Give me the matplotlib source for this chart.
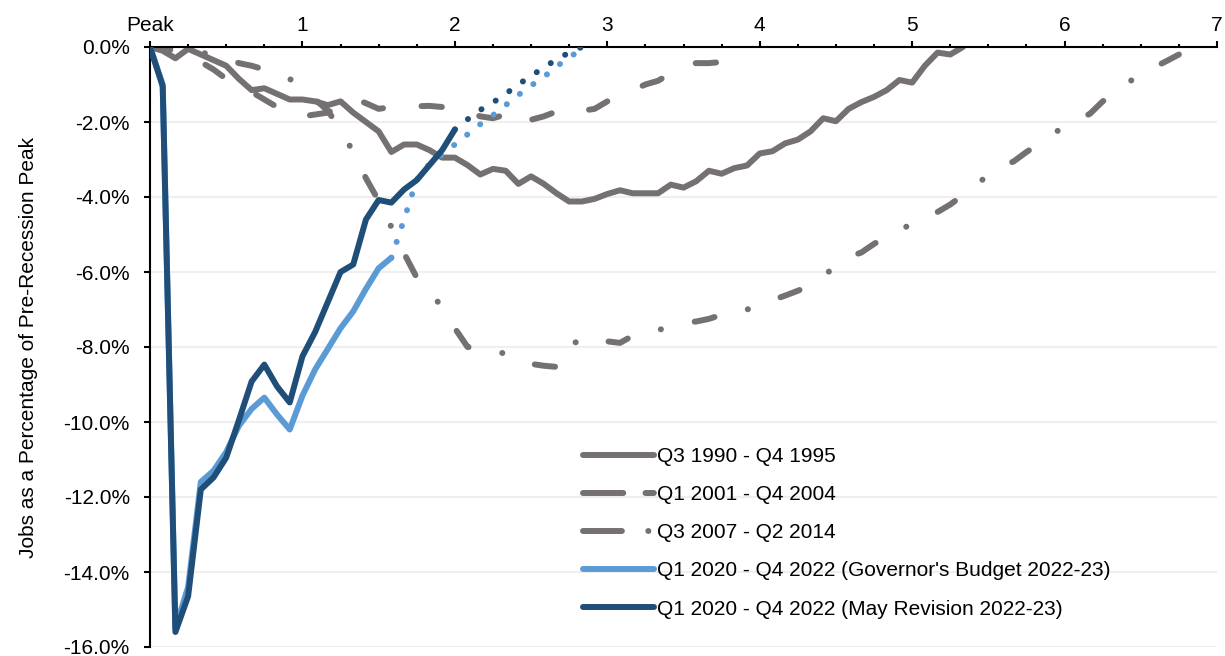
import matplotlib.pyplot as plt
import numpy as np
from matplotlib.lines import Line2D

plt.rcParams["font.family"] = ["Liberation Sans", "DejaVu Sans"]
plt.rcParams["lines.scale_dashes"] = False

# jobs as % of pre-recession peak, one value per month after the peak
jobs_1990 = [0.0, -0.1, -0.3, -0.05, -0.2, -0.35, -0.5, -0.85, -1.15, -1.1,
             -1.25, -1.4, -1.4, -1.45, -1.55, -1.45, -1.75, -2.0, -2.25, -2.8,
             -2.6, -2.6, -2.75, -2.95, -2.95, -3.15, -3.4, -3.25, -3.3, -3.65,
             -3.45, -3.65, -3.9, -4.12, -4.12, -4.05, -3.92, -3.82, -3.9, -3.9,
             -3.9, -3.67, -3.75, -3.58, -3.3, -3.38, -3.23, -3.16, -2.84, -2.78,
             -2.57, -2.47, -2.25, -1.9, -1.98, -1.65, -1.47, -1.33, -1.15, -0.88,
             -0.95, -0.5, -0.15, -0.2, 0.0]
jobs_2001 = [0.0, -0.05, -0.1, -0.2, -0.4, -0.6, -0.85, -1.0, -1.2, -1.4,
             -1.6, -1.75, -1.85, -1.8, -1.75, -1.55, -1.36, -1.5, -1.65, -1.6,
             -1.6, -1.58, -1.57, -1.6, -1.65, -1.72, -1.85, -1.9, -1.8, -1.65,
             -1.94, -1.85, -1.72, -1.62, -1.7, -1.65, -1.45, -1.28, -1.15, -1.0,
             -0.9, -0.7, -0.45, -0.43, -0.43, -0.4]
jobs_2007 = [0.0, -0.02, -0.05, -0.1, -0.15, -0.2, -0.3, -0.43, -0.5, -0.6,
             -0.75, -0.85, -1.1, -1.4, -1.7, -2.2, -2.8, -3.5, -4.1, -4.8,
             -5.5, -6.15, -6.5, -6.95, -7.5, -8.0, -8.05, -8.05, -8.2, -8.38,
             -8.45, -8.5, -8.53, -7.9, -7.85, -7.72, -7.85, -7.89, -7.7, -7.58,
             -7.55, -7.45, -7.35, -7.32, -7.25, -7.14, -7.14, -7.0, -6.9, -6.75,
             -6.63, -6.5, -6.35, -6.1, -5.85, -5.6, -5.48, -5.25, -5.05, -4.9,
             -4.7, -4.55, -4.4, -4.2, -3.95, -3.7, -3.4, -3.2, -3.05, -2.8,
             -2.58, -2.35, -2.1, -1.95, -1.78, -1.45, -1.25, -0.95, -0.72, -0.55,
             -0.38, -0.2]

# 2020 recession: actuals, then forecast (months 19-34 / 24-34)
gov_actual = [0.0, -1.0, -15.5, -14.4, -11.6, -11.3, -10.8, -10.1, -9.65, -9.35,
              -9.8, -10.2, -9.3, -8.6, -8.05, -7.5, -7.05, -6.45, -5.9, -5.62]
gov_forecast = [-5.62, -4.6, -3.54, -3.12, -2.87, -2.6, -2.33, -2.06, -1.82,
                -1.55, -1.28, -1.03, -0.8, -0.52, -0.28, -0.05]
may_actual = [0.0, -1.05, -15.6, -14.65, -11.8, -11.48, -10.95, -9.95, -8.92,
              -8.47, -9.05, -9.48, -8.25, -7.6, -6.8, -6.0, -5.8, -4.6, -4.08,
              -4.15, -3.8, -3.55, -3.15, -2.75, -2.2]
may_forecast = [-2.2, -1.93, -1.68, -1.48, -1.25, -1.0, -0.77, -0.55, -0.33,
                -0.15, 0.0]

series_labels = ["Q3 1990 - Q4 1995", "Q1 2001 - Q4 2004", "Q3 2007 - Q2 2014",
                 "Q1 2020 - Q4 2022 (Governor's Budget 2022-23)",
                 "Q1 2020 - Q4 2022 (May Revision 2022-23)"]
x_ticklabels = ["Peak", "1", "2", "3", "4", "5", "6", "7"]
y_ticks = [0, -2, -4, -6, -8, -10, -12, -14, -16]

gray = "#767171"
light = "#5B9BD5"
dark = "#1F4E79"
lw = 4.3


def months(vals, start=0):
    return (np.arange(len(vals)) + start) / 12.0


fig = plt.figure(figsize=(12.25, 6.56), dpi=100)
ax = fig.add_axes([150 / 1225, 9 / 656, 1067 / 1225, 600 / 656])

ax.plot(months(jobs_1990), jobs_1990, color=gray, lw=lw,
        solid_joinstyle="round", solid_capstyle="round")
ax.plot(months(jobs_2001), jobs_2001, color=gray, lw=lw,
        linestyle=(0, (14.7, 27.8)), dash_capstyle="round",
        dash_joinstyle="round")
ax.plot(months(jobs_2007), jobs_2007, color=gray, lw=lw,
        linestyle=(0, (14.7, 25, 0.1, 25)), dash_capstyle="round",
        dash_joinstyle="round")
ax.plot(months(gov_actual), gov_actual, color=light, lw=lw,
        solid_joinstyle="round", solid_capstyle="round", zorder=3)
ax.plot(months(gov_forecast, 19), gov_forecast, color=light, lw=lw,
        linestyle=(0, (0.1, 11.9)), dash_capstyle="round", zorder=3)
ax.plot(months(may_actual), may_actual, color=dark, lw=lw,
        solid_joinstyle="round", solid_capstyle="round", zorder=4)
ax.plot(months(may_forecast, 24), may_forecast, color=dark, lw=lw,
        linestyle=(0, (0.1, 11.9)), dash_capstyle="round", zorder=4)

ax.set_xlim(0, 7)
ax.set_ylim(-16, 0)
ax.xaxis.tick_top()
ax.set_xticks(range(8))
ax.set_xticklabels(x_ticklabels)
ax.set_xticks(np.arange(0, 7.01, 0.25), minor=True)
ax.set_yticks(y_ticks)
ax.set_yticklabels([f"{v:.1f}%" for v in y_ticks])
ax.tick_params(axis="x", which="major", length=4.5, width=1.5, pad=4,
               labelsize=15, top=True, bottom=False)
ax.tick_params(axis="x", which="minor", length=2.5, width=1.5, top=True,
               bottom=False)
ax.tick_params(axis="y", length=4.5, width=1.5, pad=10, labelsize=15)
for side in ["bottom", "right"]:
    ax.spines[side].set_visible(False)
for side in ["top", "left"]:
    ax.spines[side].set_linewidth(1.5)
ax.yaxis.grid(True, color="#EFEFEF", lw=1.5)
ax.set_axisbelow(True)
ax.set_ylabel("Jobs as a Percentage of Pre-Recession Peak", fontsize=15,
              labelpad=18)

# legend proxies, dash patterns shortened to fit the handle like the original
handles = [
    Line2D([], [], color=gray, lw=lw, solid_capstyle="round"),
    Line2D([], [], color=gray, lw=lw, linestyle=(0, (29, 16, 6, 20)),
           dash_capstyle="round"),
    Line2D([], [], color=gray, lw=lw, linestyle=(0, (28, 19, 0.1, 20)),
           dash_capstyle="round"),
    Line2D([], [], color=light, lw=lw, solid_capstyle="round"),
    Line2D([], [], color=dark, lw=lw, solid_capstyle="round"),
]
ax.legend(handles, series_labels, loc="upper left",
          bbox_to_anchor=(583 / 1225, 1 - 447 / 656),
          bbox_transform=fig.transFigure, frameon=False,
          fontsize=15, handlelength=3.4, handletextpad=0.15,
          labelspacing=0.92, borderpad=0, borderaxespad=0)

fig.savefig("out.png", dpi=100)
